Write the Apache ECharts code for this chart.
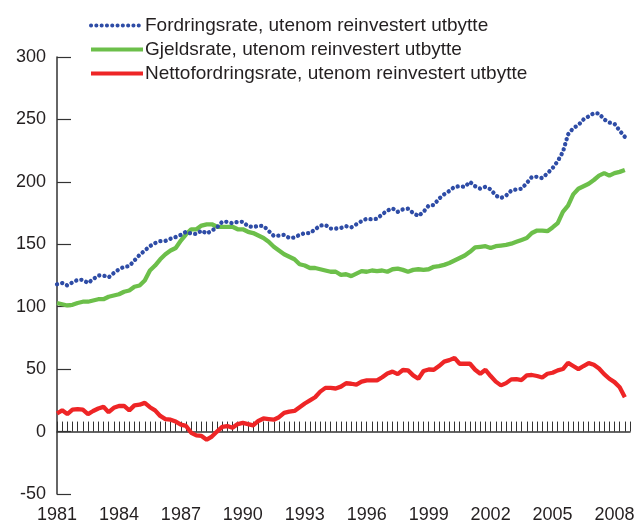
<!DOCTYPE html>
<html>
<head>
<meta charset="utf-8">
<script src="https://cdn.jsdelivr.net/npm/echarts@6/dist/echarts.min.js"></script>
<style>
  html, body { margin: 0; padding: 0; background: #ffffff; }
  #chart { width: 641px; height: 524px; }
</style>
</head>
<body>
<div id="chart"></div>
<script>
// Quarterly data, 1981 Q1 .. 2008 Q3
const startYear = 1981;
const seriesNames = [
  'Fordringsrate, utenom reinvestert utbytte',
  'Gjeldsrate, utenom reinvestert utbytte',
  'Nettofordringsrate, utenom reinvestert utbytte'
];
const fordringsrate = [118,119,117,119.5,121.5,121.5,119,122,125,125,123.5,127,130,132,132.5,137,141.5,145,148.5,151,152.5,152.7,154.5,155.8,157.5,160,158.6,158.3,161,158.6,161,163.5,168,168,166.8,168,168,164.5,163.8,164.7,164.7,160.7,156.7,157,157.6,155,155.4,157.6,159,158.9,162,165,165.5,162.6,162.6,
  163,164.5,163.5,166,168.5,170.5,170,170.4,174,177,178.8,176,178,178.5,175,172.7,176,181,181.5,186.5,190,192.7,196,196.5,196,200,196.5,194.5,196,194,189,187.1,189,193,194,194.5,199,204,204,203,206.8,211,216.6,224,238,243,245.5,250,252.5,255,254.7,250,247.5,246.5,241,236];
const gjeldsrate = [103,102,101,101.5,103,104,104,105,106,106,108,109,110,112,113,116,117,121,129,133,138,142,145,147,153,158,162,162,165,166,166,164,164,164,164,162,162,160,159,157,155,152,148,145,142,140,138,134,133,131,131,130,129,128,128,
  125.5,126,124.5,126.5,128.5,128,129,128.5,129,128,130,130.5,129.5,128,129.5,130,129.5,130,132,132.5,133.5,135,137,139,141,144,147.5,148,148.5,147,148.5,149,149.5,150.5,152,153.5,155,159,161,161,160.5,163.5,167,176,181,190,194.5,196.5,198.5,201.5,205,207,205,207,208,209.5];
const nettofordringsrate = [14.5,17,14,17.5,18,17.5,14,16.5,18.5,19.8,15.5,19,20.5,20.5,17,21,21.5,23,19.5,17,12.5,10,9.5,8,5.5,4.5,-1,-3,-3.5,-6.5,-4,0,3.8,4.4,3,6,7,6,5,8.5,10.5,10,9.5,11.5,15,16,16.5,19.5,22.5,25,27.5,32,35,35,34.5,
  36,38.7,38.3,37.6,40,41,41,41,43.5,46.5,48,46,49.3,49,45,42.3,48.5,49.7,49.5,52.5,56,57.2,59,54.3,54.3,54.3,49.5,46.3,49.5,44.5,40,37,38.8,41.8,42,41.3,45,45.3,44.5,43.3,46.3,47.1,49,50.1,55,52.5,50,52.5,54.8,53.5,50.5,46,42.3,39.6,35.5,27.5];
const xTickYears = [1981,1984,1987,1990,1993,1996,1999,2002,2005,2008];
const yTicks = [-50,0,50,100,150,200,250,300];

// quarter positions (time in years) for each observation
const quarters = fordringsrate.map((_, i) => startYear + i / 4);
const pairs = vals => vals.map((v, i) => [quarters[i], v]);

const FONT = 'Liberation Sans, Arial, Helvetica, sans-serif';
const chart = echarts.init(document.getElementById('chart'), null, { renderer: 'canvas' });
chart.setOption({
  animation: false,
  backgroundColor: '#ffffff',
  textStyle: { fontFamily: FONT },
  grid: { left: 57, right: 11, top: 57, bottom: 28, containLabel: false },
  legend: {
    orient: 'vertical',
    left: 89,
    top: 16,
    itemWidth: 52,
    itemHeight: 14,
    itemGap: 5,
    padding: 0,
    data: seriesNames,
    textStyle: { fontSize: 19, color: '#231f20', fontFamily: FONT, padding: [0, 0, 0, -3] },
    lineStyle: { width: 4 },
    itemStyle: { opacity: 0 }
  },
  xAxis: [
    {
      type: 'value',
      min: xTickYears[0],
      max: 2008.75,
      interval: 3,
      position: 'bottom',
      axisLine: { show: false, onZero: false },
      axisTick: { show: false },
      splitLine: { show: false },
      axisLabel: {
        fontSize: 18, color: '#231f20', margin: 12, fontFamily: FONT,
        formatter: v => (xTickYears.indexOf(v) >= 0 ? String(v) : '')
      }
    },
    {
      type: 'value',
      min: xTickYears[0],
      max: 2008.75,
      interval: 0.25,
      position: 'top',
      axisLine: { show: true, onZero: true, lineStyle: { color: '#333333', width: 1.5 } },
      axisTick: { show: true, inside: false, length: 10, lineStyle: { color: '#333333', width: 1 } },
      axisLabel: { show: false },
      splitLine: { show: false }
    }
  ],
  yAxis: {
    type: 'value',
    min: yTicks[0],
    max: yTicks[yTicks.length - 1],
    interval: 50,
    axisLine: { show: true, onZero: false, lineStyle: { color: '#333333', width: 1.5 } },
    axisTick: { show: true, inside: true, length: 14, lineStyle: { color: '#333333', width: 1.2 } },
    splitLine: { show: false },
    axisLabel: { fontSize: 18, color: '#231f20', margin: 11, fontFamily: FONT }
  },
  series: [
    {
      name: seriesNames[0], type: 'line', xAxisIndex: 0, data: pairs(fordringsrate),
      symbol: 'none', smooth: false, z: 3,
      lineStyle: { color: '#2E4CA6', width: 4.3, type: [0.1, 5.2], cap: 'round' },
      itemStyle: { color: '#2E4CA6' }
    },
    {
      name: seriesNames[1], type: 'line', xAxisIndex: 0, data: pairs(gjeldsrate),
      symbol: 'none', z: 2,
      lineStyle: { color: '#6CBF4A', width: 4.3 },
      itemStyle: { color: '#6CBF4A' }
    },
    {
      name: seriesNames[2], type: 'line', xAxisIndex: 0, data: pairs(nettofordringsrate),
      symbol: 'none', z: 2,
      lineStyle: { color: '#EE2526', width: 4.3 },
      itemStyle: { color: '#EE2526' }
    }
  ]
});
</script>
</body>
</html>
